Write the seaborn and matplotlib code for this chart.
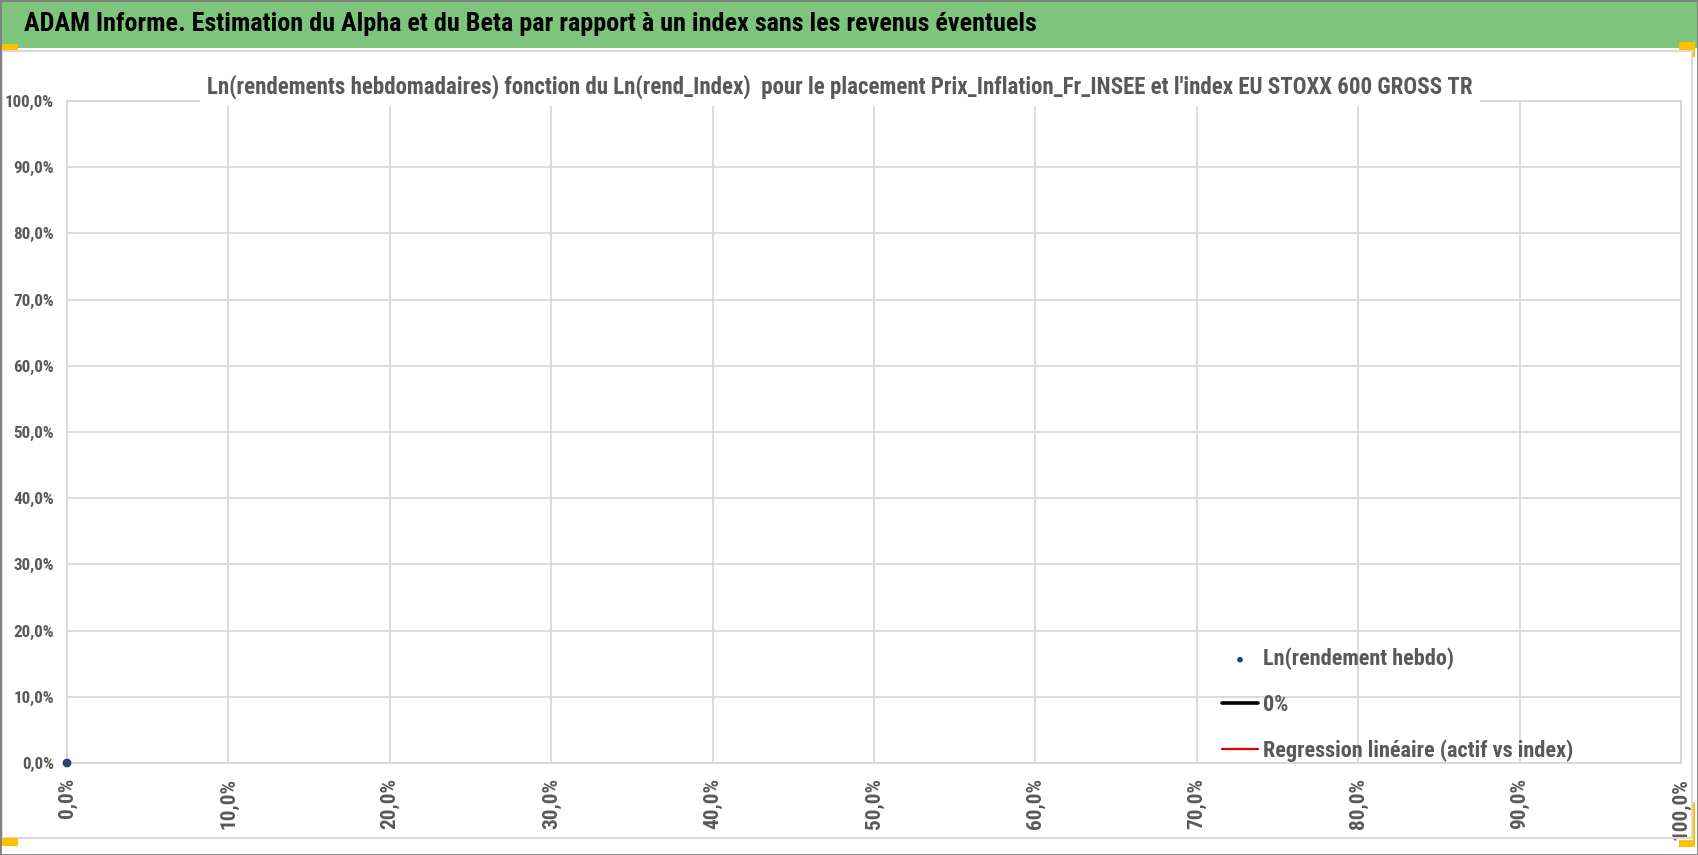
import numpy as np
import pandas as pd
import matplotlib
matplotlib.use("Agg")
import matplotlib.pyplot as plt
import seaborn as sns
from matplotlib import font_manager as fm
from matplotlib.patches import Rectangle

# ---------------- data ----------------
index_returns = [0.0]          # Ln(rend_Index)
asset_returns = [0.0]          # Ln(rendement hebdo)
zero_line_x = [0.0, 0.0]
zero_line_y = [0.0, 0.0]
regression_x = [0.0, 0.0]
regression_y = [0.0, 0.0]
x_ticks = [0.0, 0.1, 0.2, 0.3, 0.4, 0.5, 0.6, 0.7, 0.8, 0.9, 1.0]
y_ticks = [0.0, 0.1, 0.2, 0.3, 0.4, 0.5, 0.6, 0.7, 0.8, 0.9, 1.0]
series_labels = ["Ln(rendement hebdo)", "0%", "Regression linéaire (actif vs index)"]
header_text = "ADAM Informe. Estimation du Alpha et du Beta par rapport à un index sans les revenus éventuels"
chart_title = ("Ln(rendements hebdomadaires) fonction du Ln(rend_Index)  pour le placement "
               "Prix_Inflation_Fr_INSEE et l'index EU STOXX 600 GROSS TR")

# ---------------- style ----------------
sns.set_theme(style="white")
ttf = fm.fontManager.ttflist
available = {f.name for f in ttf}
chosen, stretch = None, "normal"
for name in ["Liberation Sans Narrow", "Roboto Condensed", "Open Sans Condensed",
             "DejaVu Sans Condensed", "Noto Sans Condensed"]:
    if name in available:
        chosen = name
        break
if chosen is None:
    for name in ["Lato", "Open Sans", "Roboto", "Noto Sans", "DejaVu Sans", "Liberation Sans"]:
        st = [f.stretch for f in ttf if f.name == name and str(f.stretch) in
              ("condensed", "semi-condensed", "extra-condensed")]
        if st:
            chosen, stretch = name, st[0]
            break
if chosen is None:
    chosen = "Lato" if "Lato" in available else "DejaVu Sans"
plt.rcParams["font.family"] = [chosen, "DejaVu Sans"]
plt.rcParams["font.stretch"] = stretch

W, H = 1698, 855
GRAY_TXT = "#595959"
GRID = "#d9d9d9"
GREEN = "#7dc57c"
YELLOW = "#ffc000"

fig = plt.figure(figsize=(W / 100, H / 100), dpi=100)
fig.patch.set_facecolor("white")

def fx(px):
    return px / W

def fy(py):
    return 1 - py / H

renderer = fig.canvas.get_renderer()

def fit_size(text, target_w, weight="bold"):
    t = fig.text(0, 0, text, fontsize=20, fontweight=weight)
    w = t.get_window_extent(renderer).width
    t.remove()
    return 20 * target_w / w

# plot area
L, R, T, B = 67, 1681, 101, 763
ax = fig.add_axes([fx(L), fy(B), (R - L) / W, (B - T) / H])
ax.set_facecolor("white")

sns.scatterplot(x=index_returns, y=asset_returns, ax=ax, color="#264478", s=40,
                edgecolor="none", clip_on=False, zorder=6, label=series_labels[0])
sns.lineplot(x=zero_line_x, y=zero_line_y, ax=ax, color="black", linewidth=2.6,
             estimator=None, sort=False, label=series_labels[1], zorder=5)
sns.lineplot(x=regression_x, y=regression_y, ax=ax, color="#e00000", linewidth=1.6,
             estimator=None, sort=False, label=series_labels[2], zorder=5)

ax.set_xlim(0, 1)
ax.set_ylim(0, 1)

def pct(v):
    return f"{v * 100:.1f}%".replace(".", ",")

ytick_fs = fit_size("10,0%", 41, weight="bold")
xtick_fs = fit_size("10,0%", 51, weight="bold")
ax.set_xticks(x_ticks, labels=[pct(v) for v in x_ticks], fontweight="bold",
              fontsize=xtick_fs, color=GRAY_TXT, rotation=90)
ax.set_yticks(y_ticks, labels=[pct(v) for v in y_ticks], fontweight="bold",
              fontsize=ytick_fs, color=GRAY_TXT)
ax.tick_params(axis="y", length=0, pad=13 * 0.72)
ax.tick_params(axis="x", length=0, pad=15 * 0.72)
ax.grid(True, color=GRID, linewidth=1.3)
ax.set_axisbelow(True)
for s in ax.spines.values():
    s.set_color(GRID)
    s.set_linewidth(1.3)
ax.set_xlabel("")
ax.set_ylabel("")

# legend
handles, labels = ax.get_legend_handles_labels()
if ax.get_legend() is not None:
    ax.get_legend().remove()
leg_fs = fit_size(series_labels[2], 309, weight="bold")
fs_px = leg_fs * 100 / 72
leg = fig.legend(handles, labels, loc="center left",
                 bbox_to_anchor=(fx(1222), fy(705)), bbox_transform=fig.transFigure,
                 frameon=False, fontsize=leg_fs, borderpad=0, borderaxespad=0,
                 handlelength=36 / fs_px, handletextpad=5 / fs_px,
                 labelspacing=max(0.1, (49 - 1.15 * fs_px) / fs_px), markerscale=0.65)
for t in leg.get_texts():
    t.set_color(GRAY_TXT)
    t.set_fontweight("bold")

# header band
fig.patches.append(Rectangle((0, fy(48)), 1, 48 / H, transform=fig.transFigure,
                             facecolor=GREEN, edgecolor="none", zorder=0))
hdr_fs = fit_size(header_text, 1011, weight="bold")
fig.text(fx(24), fy(24), header_text, fontsize=hdr_fs, fontweight="bold",
         color="black", ha="left", va="center", zorder=10)

# chart-area border
fig.patches.append(Rectangle((fx(2), fy(838)), (1692 - 2) / W, (838 - 51) / H,
                             transform=fig.transFigure, facecolor="none",
                             edgecolor=GRID, linewidth=1.5, zorder=1))

# chart title with white box
tit_fs = fit_size(chart_title, 1262, weight="bold")
tpx = tit_fs * 100 / 72
fig.text(fx(840), fy(87), chart_title, fontsize=tit_fs, fontweight="bold",
         color=GRAY_TXT, ha="center", va="center", zorder=10,
         bbox=dict(boxstyle=f"square,pad={7 / tpx:.3f}", facecolor="white", edgecolor="none"))

# selection handles
for (x0, y0, x1, y1) in [(0, 44, 18, 50), (1679, 42, 1695, 50), (1693, 42, 1695, 57),
                         (1679, 840, 1695, 847), (1693, 802, 1695, 847), (1, 838, 18, 846)]:
    fig.patches.append(Rectangle((fx(x0), fy(y1)), (x1 - x0) / W, (y1 - y0) / H,
                                 transform=fig.transFigure, facecolor=YELLOW,
                                 edgecolor="none", zorder=11))

# outer border
fig.patches.append(Rectangle((0, 0), 1, 1, transform=fig.transFigure, facecolor="none",
                             edgecolor="#7f7f7f", linewidth=2, zorder=12))

fig.savefig("out.png", dpi=100)
